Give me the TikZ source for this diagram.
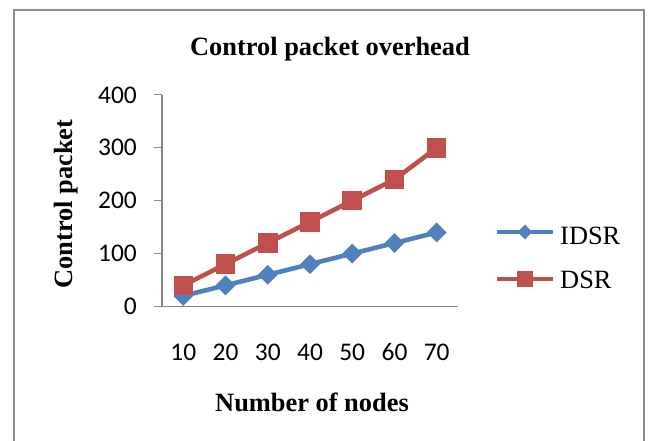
\documentclass[tikz,border=0pt]{standalone}
\usepackage{fontspec}
\setmainfont{Liberation Serif}
\newfontfamily\calib{Carlito}
\usetikzlibrary{shapes.geometric}
\definecolor{idsrblue}{HTML}{4F81BD}
\definecolor{dsrred}{HTML}{C0504D}
\definecolor{axisgray}{HTML}{868686}
\definecolor{framegray}{HTML}{8C8C8C}
\tikzset{
  frameline/.style={draw=framegray, line width=2.2bp},
  axisline/.style={draw=axisgray, line width=1.1bp},
  ticklab/.style={font=\calib\fontsize{25.5}{30}\selectfont, inner sep=0pt},
  boldlab/.style={font=\bfseries\fontsize{26.5}{31}\selectfont, inner sep=0pt},
  leglab/.style={font=\fontsize{26.5}{31}\selectfont, inner sep=0pt, anchor=base west},
  blueline/.style={draw=idsrblue, line width=4.6bp, line join=round},
  redline/.style={draw=dsrred, line width=4.6bp, line join=round},
  bluemark/.style={diamond, aspect=1, fill=idsrblue, draw=none, inner sep=0pt, minimum width=20bp, minimum height=20bp},
  redmark/.style={rectangle, fill=dsrred, draw=none, inner sep=0pt, minimum size=19.5bp},
  legbluemark/.style={diamond, aspect=1, fill=idsrblue, draw=none, inner sep=0pt, minimum width=15bp, minimum height=15bp},
  legredmark/.style={rectangle, fill=dsrred, draw=none, inner sep=0pt, minimum size=16bp},
}
\begin{document}
\begin{tikzpicture}[x=1bp,y=-1bp]
\useasboundingbox (0,0) rectangle (651,441);
% outer frame
\coordinate (fbl) at (14,441);
\coordinate (ftl) at (14,10);
\coordinate (ftr) at (644,10);
\coordinate (fbr) at (644,441);
\draw[frameline] (fbl) -- (ftl) -- (ftr) -- (fbr);
% title
\node[boldlab, anchor=base] (title) at (330,56) {Control packet overhead};
% axes
\coordinate (yaxtop) at (162,94.9);
\coordinate (origin) at (162,306.5);
\coordinate (xaxend) at (458,306.5);
\draw[axisline] (yaxtop) -- (origin) -- (xaxend);
\foreach \v/\y in {0/306.5,100/253.6,200/200.7,300/147.8,400/94.9}{
  \coordinate (tk\v) at (154,\y);
  \coordinate (ta\v) at (162,\y);
  \draw[axisline] (tk\v) -- (ta\v);
  \node[ticklab, anchor=east] (yl\v) at (137,\y) {\v};
}
% x tick labels
\foreach \k/\x in {1/183.3,2/225.5,3/267.8,4/310.0,5/352.2,6/394.5,7/436.7}{
  \pgfmathtruncatemacro{\lab}{\k*10}
  \node[ticklab, anchor=base] (xl\k) at (\x,360) {\lab};
}
% axis titles
\node[boldlab, anchor=base, rotate=90] (ytitle) at (72.5,204) {Control packet};
\node[boldlab, anchor=base] (xtitle) at (312,411.5) {Number of nodes};
% data coordinates
\foreach \k/\x/\a/\b in {1/183.3/20/40,2/225.5/40/80,3/267.8/60/120,4/310.0/80/160,5/352.2/100/200,6/394.5/120/240,7/436.7/140/300}{
  \coordinate (i\k) at (\x,306.5-0.529*\a);
  \coordinate (d\k) at (\x,306.5-0.529*\b);
}
% IDSR series
\draw[blueline] (i1) -- (i2) -- (i3) -- (i4) -- (i5) -- (i6) -- (i7);
\foreach \k in {1,...,7}{ \node[bluemark] (im\k) at (i\k) {}; }
% DSR series
\draw[redline] (d1) -- (d2) -- (d3) -- (d4) -- (d5) -- (d6) -- (d7);
\foreach \k in {1,...,7}{ \node[redmark] (dm\k) at (d\k) {}; }
% legend
\coordinate (lb1) at (497,232);
\coordinate (lb2) at (553,232);
\draw[draw=idsrblue, line width=3.8bp] (lb1) -- (lb2);
\node[legbluemark] (lbm) at (525,232) {};
\node[leglab] (lidsr) at (560,245) {IDSR};
\coordinate (lr1) at (497,279);
\coordinate (lr2) at (553,279);
\draw[draw=dsrred, line width=3.8bp] (lr1) -- (lr2);
\node[legredmark] (lrm) at (525,279) {};
\node[leglab] (ldsr) at (560,289) {DSR};
\end{tikzpicture}
\end{document}
